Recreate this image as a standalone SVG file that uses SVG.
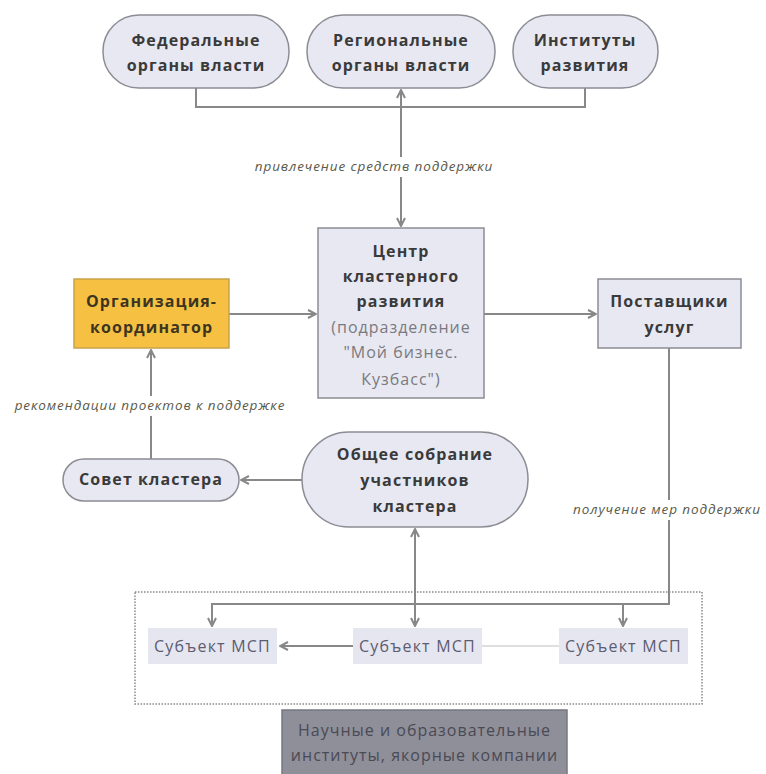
<svg xmlns="http://www.w3.org/2000/svg" width="766" height="774" viewBox="0 0 766 774">
<defs>
<marker id="arr" viewBox="0 0 10 10" refX="9" refY="5" markerWidth="10" markerHeight="10" markerUnits="userSpaceOnUse" orient="auto-start-reverse">
<path d="M1,1 L9,5 L1,9" fill="none" stroke="#888" stroke-width="2"/>
</marker>
<style>
.node{fill:#e8e8f2;stroke:#8c8c94;stroke-width:1.5}
.b{font-family:"Open Sans","DejaVu Sans",sans-serif;font-weight:bold;font-size:16px;letter-spacing:1.1px;fill:#3a3a3a;text-anchor:middle}
.r{font-family:"Open Sans","DejaVu Sans",sans-serif;font-size:16px;letter-spacing:1px;fill:#7a7a80;text-anchor:middle}
.s{font-family:"Open Sans","DejaVu Sans",sans-serif;font-size:16px;letter-spacing:1.2px;fill:#5c5c72;text-anchor:middle}
.t{font-family:"Open Sans","DejaVu Sans",sans-serif;font-size:16px;letter-spacing:1px;fill:#4a4a55;text-anchor:middle}
.lbl{font-family:"Open Sans","DejaVu Sans",sans-serif;font-style:italic;font-size:13.5px;letter-spacing:0.9px;fill:#5a5a4a;text-anchor:middle}
.c{fill:none;stroke:#888;stroke-width:2}
.sub{fill:#e6e6f0}
</style>
</defs>
<rect width="766" height="774" fill="#ffffff"/>
<g id="connectors">
<path class="c" d="M196 88 V107 H585 V88"/>
<path class="c" d="M401 90 V226" marker-start="url(#arr)" marker-end="url(#arr)"/>
<path class="c" d="M229 314 H316" marker-end="url(#arr)"/>
<path class="c" d="M484 314 H596" marker-end="url(#arr)"/>
<path class="c" d="M151 459 V350" marker-end="url(#arr)"/>
<path class="c" d="M302 480 H241" marker-end="url(#arr)"/>
<path class="c" d="M669 348 V604 H212 V626" marker-end="url(#arr)"/>
<path class="c" d="M623 604 V626" marker-end="url(#arr)"/>
<path class="c" d="M415 529 V626" marker-start="url(#arr)" marker-end="url(#arr)"/>
<path class="c" d="M353 646 H280" marker-end="url(#arr)"/>
<path d="M482 646 H559" fill="none" stroke="#d4d4d8" stroke-width="1.5"/>
<rect x="248" y="157" width="254" height="20" fill="#fff"/>
<text class="lbl" x="374" y="171">привлечение средств поддержки</text>
<rect x="6" y="396" width="290" height="20" fill="#fff"/>
<text class="lbl" x="150" y="410">рекомендации проектов к поддержке</text>
<rect x="566" y="500" width="200" height="20" fill="#fff"/>
<text class="lbl" x="667" y="514">получение мер поддержки</text>
</g>
<g id="frame">
<rect x="135" y="592" width="567" height="112" fill="none" stroke="#888" stroke-width="1.5" stroke-dasharray="1.5 1.5"/>
</g>
<g id="n-fed">
<rect class="node" x="103" y="15" width="186" height="73" rx="36"/>
<text class="b" x="196" y="46">Федеральные</text>
<text class="b" x="196" y="71">органы власти</text>
</g>
<g id="n-reg">
<rect class="node" x="307" y="15" width="188" height="73" rx="36"/>
<text class="b" x="401" y="46">Региональные</text>
<text class="b" x="401" y="71">органы власти</text>
</g>
<g id="n-inst">
<rect class="node" x="513" y="15" width="145" height="73" rx="36"/>
<text class="b" x="585" y="46">Институты</text>
<text class="b" x="585" y="71">развития</text>
</g>
<g id="n-center">
<rect class="node" x="318" y="228" width="166" height="170"/>
<text class="b" x="401" y="257">Центр</text>
<text class="b" x="401" y="282">кластерного</text>
<text class="b" x="401" y="307">развития</text>
<text class="r" x="401" y="333">(подразделение</text>
<text class="r" x="401" y="358">"Мой бизнес.</text>
<text class="r" x="401" y="385">Кузбасс")</text>
</g>
<g id="n-org">
<rect x="74" y="279" width="155" height="69" fill="#f6c143" stroke="#c9a24a" stroke-width="1.5"/>
<text class="b" x="151.5" y="307" style="fill:#3d3520">Организация-</text>
<text class="b" x="151.5" y="333" style="fill:#3d3520">координатор</text>
</g>
<g id="n-prov">
<rect class="node" x="598" y="279" width="143" height="69"/>
<text class="b" x="669.5" y="307">Поставщики</text>
<text class="b" x="669.5" y="333">услуг</text>
</g>
<g id="n-sovet">
<rect class="node" x="63" y="459" width="176" height="42" rx="21"/>
<text class="b" x="151" y="485">Совет кластера</text>
</g>
<g id="n-obshee">
<rect class="node" x="302" y="432" width="226" height="95" rx="47"/>
<text class="b" x="415" y="460">Общее собрание</text>
<text class="b" x="415" y="486">участников</text>
<text class="b" x="415" y="512">кластера</text>
</g>
<g id="n-msp1">
<rect class="sub" x="148" y="628" width="129" height="36"/>
<text class="s" x="212.5" y="652">Субъект МСП</text>
</g>
<g id="n-msp2">
<rect class="sub" x="353" y="628" width="129" height="36"/>
<text class="s" x="417.5" y="652">Субъект МСП</text>
</g>
<g id="n-msp3">
<rect class="sub" x="559" y="628" width="129" height="36"/>
<text class="s" x="623.5" y="652">Субъект МСП</text>
</g>
<g id="n-sci">
<rect x="282" y="710" width="285" height="70" fill="#8f8f99" stroke="#777780" stroke-width="1.5"/>
<text class="t" x="424.5" y="736">Научные и образовательные</text>
<text class="t" x="424.5" y="761">институты, якорные компании</text>
</g>
</svg>
